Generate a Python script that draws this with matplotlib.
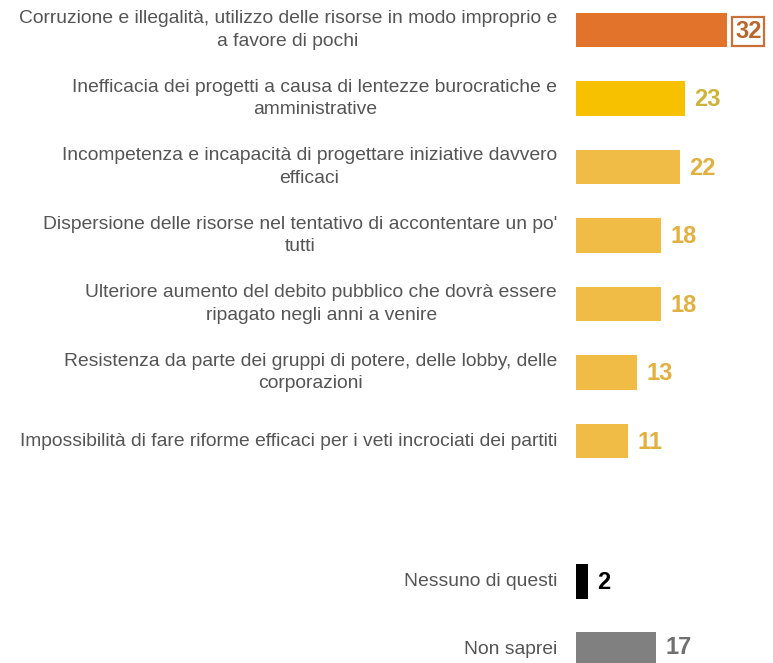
import matplotlib.pyplot as plt

labels = [
    "Corruzione e illegalità, utilizzo delle risorse in modo improprio e\na favore di pochi",
    "Inefficacia dei progetti a causa di lentezze burocratiche e\namministrative",
    "Incompetenza e incapacità di progettare iniziative davvero\nefficaci",
    "Dispersione delle risorse nel tentativo di accontentare un po'\ntutti",
    "Ulteriore aumento del debito pubblico che dovrà essere\nripagato negli anni a venire",
    "Resistenza da parte dei gruppi di potere, delle lobby, delle\ncorporazioni",
    "Impossibilità di fare riforme efficaci per i veti incrociati dei partiti",
    "Nessuno di questi",
    "Non saprei",
]
values = [32, 23, 22, 18, 18, 13, 11, 2, 17]
positions = [0, 1, 2, 3, 4, 5, 6, 8.05, 9.05]

bar_colors = ["#E2732A", "#F7C100", "#F0BC45", "#F0BC45", "#F0BC45",
              "#F0BC45", "#F0BC45", "#000000", "#808080"]
value_colors = ["#B8652E", "#CDB23A", "#E0B040", "#E0B040", "#E0B040",
                "#E0B040", "#E0B040", "#000000", "#707070"]

plt.rcParams['font.family'] = ['Liberation Sans', 'DejaVu Sans']

fig = plt.figure(figsize=(7.73, 6.63), dpi=100)
ax = fig.add_axes([0, 0, 1, 1])

px = 4.72  # pixels per unit
ax.set_xlim(-576 / px, (773 - 576) / px)
step = 68.5
ax.set_ylim((663 - 30) / step, -30 / step)

# the "Nessuno" bar is drawn thicker than its value
widths = [max(v, 2.5) for v in values]
ax.barh(positions, widths, height=0.51, color=bar_colors)

for i, (lab, v, y) in enumerate(zip(labels, values, positions)):
    ax.text(-4.0, y, lab, ha='right', va='center', multialignment='center',
            fontsize=13.9, color='#555555', linespacing=1.4)
    ty = y - 0.03 if i == len(values) - 1 else y + 0.02
    if i == 0:
        ax.text(widths[i] + 1.7, ty, str(v), ha='left', va='center', fontsize=17,
                fontweight='bold', color=value_colors[i],
                bbox=dict(boxstyle='square,pad=0.12', fc='white', ec='#C8703A', lw=1.6))
    else:
        ax.text(widths[i] + 2.0, ty, str(v), ha='left', va='center', fontsize=17,
                fontweight='bold', color=value_colors[i])

ax.axis('off')
fig.savefig('out.png', dpi=100)
